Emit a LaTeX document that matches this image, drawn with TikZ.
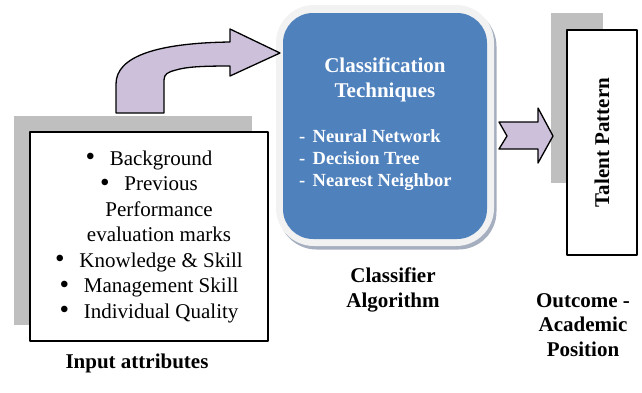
\documentclass[tikz,border=0pt]{standalone}
\usepackage{fontspec}
\setmainfont{Liberation Serif}
\usetikzlibrary{shadows}
\definecolor{techblue}{HTML}{4F81BD}
\definecolor{arrowlilac}{HTML}{CCC0DA}
\definecolor{shadowgray}{HTML}{BFBFBF}
\definecolor{framegray}{HTML}{F2F2F2}
\definecolor{frameedge}{HTML}{8E9BB0}
\begin{document}
\begin{tikzpicture}[x=1pt, y=-1pt, line join=round, >=stealth,
  font=\fontsize{21}{25.5}\selectfont]
		\tikzset{boxed/.style={draw, line width=1.4pt, fill=white, inner sep=0pt, align=center},
		  caption/.style={font=\fontsize{21}{24.5}\selectfont\bfseries, align=center},
		  blockarrow/.style={draw, line width=1.3pt, fill=arrowlilac}}
		\def \itemgap{\raisebox{-0.6pt}{\scalebox{1.3}{\textbullet}}\hspace{0.7em}}
		\useasboundingbox (0,0) rectangle (642,392);
		% grey shadows behind the plain boxes
		\fill[shadowgray] (14,116) rectangle (252,325);
		\fill[shadowgray] (551,13) rectangle (603,183);
		\node[boxed, minimum width=238pt, minimum height=209pt] (attrs) at (149,236.5)
		  {\itemgap Background\\
		   \itemgap Previous\\
		   \hspace*{20pt}Performance\\
		   \hspace*{20pt}evaluation marks\\
		   \itemgap Knowledge \& Skill\\
		   \itemgap Management Skill\\
		   \itemgap Individual Quality};
		\node[caption] (attrscap) at (137,363) {Input attributes};
		% classifier block
		\node[fill=framegray, rounded corners=38pt, minimum width=218pt, minimum height=241pt,
		  drop shadow={shadow xshift=2.5pt, shadow yshift=-3.5pt, fill=frameedge, opacity=0.8}] (frame) at (385,125.5) {};
		\node[fill=techblue, rounded corners=30pt, minimum width=204pt, minimum height=226pt] (tech) at (385,126) {};
		\node[caption, text=white] (techtitle) at (385,80) {Classification\\Techniques};
		\node[font=\fontsize{18.5}{22}\selectfont\bfseries, text=white, align=left, inner sep=0pt, anchor=west] (techlist) at (299,160)
		  {-\hspace{0.15em} Neural Network\\-\hspace{0.15em} Decision Tree\\-\hspace{0.15em} Nearest Neighbor};
		\node[caption] (techcap) at (393,290) {Classifier\\Algorithm};
		% outcome block
		\node[boxed, minimum width=70pt, minimum height=225pt] (talent) at (602,142.5) {};
		\node[caption, rotate=90] (talentlbl) at (talent.center) {Talent Pattern};
		\node[caption] (outcap) at (583,325) {Outcome -\\Academic\\Position};
		% block arrows
		\draw[blockarrow] (116,113) -- (116,84) .. controls (116,56) and (158,43) .. (230,42)
		  -- (230,29) -- (280,53) -- (230,76) -- (230,66)
		  .. controls (200,66) and (186,67) .. (176,70) .. controls (168,72) and (164,74) .. (164,80)
		  -- (164,113) -- cycle;
		\draw[blockarrow] (499,122) -- (538,122) -- (538,108) -- (553,136) -- (538,163)
		  -- (538,149) -- (499,149) -- (507,136) -- cycle;
\end{tikzpicture}
\end{document}
